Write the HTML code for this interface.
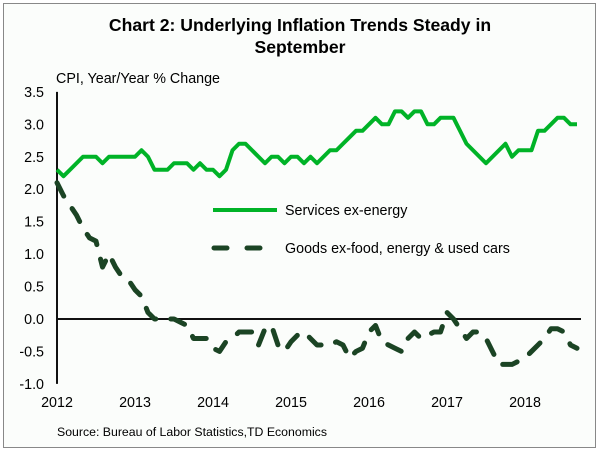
<!DOCTYPE html>
<html><head><meta charset="utf-8"><style>
body{margin:0;background:#fff;}
svg text{font-family:"Liberation Sans",Arial,sans-serif;fill:#000;}
</style></head><body>
<svg id="chart" width="600" height="452" viewBox="0 0 600 452">
<rect x="3.5" y="3.5" width="592" height="444" fill="#fbfdfb" stroke="#888" stroke-width="1"/>
<text x="300" y="31" text-anchor="middle" font-size="17.6" font-weight="bold">Chart 2: Underlying Inflation Trends Steady in</text>
<text x="300" y="53" text-anchor="middle" font-size="17.6" font-weight="bold">September</text>
<text x="56" y="83" font-size="14.3">CPI, Year/Year % Change</text>
<text x="57" y="436" font-size="12.3">Source: Bureau of Labor Statistics,TD Economics</text>
<g id="axes"></g>
<g id="series"></g>
<g id="legend">
<line x1="213" y1="210" x2="277" y2="210" stroke="#00b327" stroke-width="4"/>
<text x="285" y="215" font-size="14.3">Services ex-energy</text>
<line x1="214" y1="248" x2="261" y2="248" stroke="#1b4424" stroke-width="5" stroke-dasharray="13,20" stroke-linecap="round"/>
<text x="285" y="253" font-size="14.3">Goods ex-food, energy &amp; used cars</text>
</g>
</svg>
<script>
const yTicks=[3.5,3.0,2.5,2.0,1.5,1.0,0.5,0.0,-0.5,-1.0];
const yearLabels=["2012","2013","2014","2015","2016","2017","2018"];
const services=[2.3,2.2,2.3,2.4,2.5,2.5,2.5,2.4,2.5,2.5,2.5,2.5,
2.5,2.6,2.5,2.3,2.3,2.3,2.4,2.4,2.4,2.3,2.4,2.3,
2.3,2.2,2.3,2.6,2.7,2.7,2.6,2.5,2.4,2.5,2.5,2.4,
2.5,2.5,2.4,2.5,2.4,2.5,2.6,2.6,2.7,2.8,2.9,2.9,
3.0,3.1,3.0,3.0,3.2,3.2,3.1,3.2,3.2,3.0,3.0,3.1,
3.1,3.1,2.9,2.7,2.6,2.5,2.4,2.5,2.6,2.7,2.5,2.6,
2.6,2.6,2.9,2.9,3.0,3.1,3.1,3.0,3.0];
const goods=[2.1,1.9,1.75,1.6,1.4,1.25,1.2,0.8,1.0,0.8,0.65,0.6,
0.45,0.35,0.1,0.0,0.0,0.0,0.0,-0.05,-0.1,-0.3,-0.3,-0.3,
-0.45,-0.5,-0.35,-0.3,-0.2,-0.2,-0.2,-0.4,-0.15,-0.1,-0.4,-0.5,
-0.35,-0.25,-0.2,-0.3,-0.4,-0.4,-0.4,-0.35,-0.4,-0.6,-0.5,-0.45,
-0.2,-0.1,-0.35,-0.4,-0.45,-0.5,-0.3,-0.2,-0.3,-0.25,-0.2,-0.2,
0.1,0.0,-0.15,-0.3,-0.2,-0.2,-0.3,-0.5,-0.7,-0.7,-0.7,-0.65,
-0.6,-0.5,-0.4,-0.3,-0.15,-0.15,-0.2,-0.4,-0.45];
const NS="http://www.w3.org/2000/svg";
function x(m){return 57+m*6.5;}
function y(v){return 319-v*64.9;}
function mk(tag,attrs,parent){const e=document.createElementNS(NS,tag);for(const k in attrs)e.setAttribute(k,attrs[k]);parent.appendChild(e);return e;}
const axes=document.getElementById('axes');
yTicks.forEach(v=>{const t=mk('text',{x:44,y:y(v)+5,'text-anchor':'end','font-size':14.3},axes);t.textContent=v.toFixed(1);

});
yearLabels.forEach((l,i)=>{const t=mk('text',{x:x(i*12),y:407,'text-anchor':'middle','font-size':14.3},axes);t.textContent=l;

});
const ya=mk('line',{x1:57,y1:y(3.5),x2:57,y2:y(-1.0),stroke:'#111','stroke-width':2},axes);


const zl=mk('line',{x1:57,y1:y(0),x2:581,y2:y(0),stroke:'#111','stroke-width':2},axes);


const s=document.getElementById('series');
const ps=mk('polyline',{points:services.map((v,i)=>x(i)+','+y(v)).join(' '),fill:'none',stroke:'#00b327','stroke-width':4,'stroke-linejoin':'round'},s);


const pg=mk('polyline',{points:goods.map((v,i)=>x(i)+','+y(v)).join(' '),fill:'none',stroke:'#1b4424','stroke-width':5,'stroke-dasharray':'15,15','stroke-linecap':'round','stroke-linejoin':'round'},s);


</script>
</body></html>
